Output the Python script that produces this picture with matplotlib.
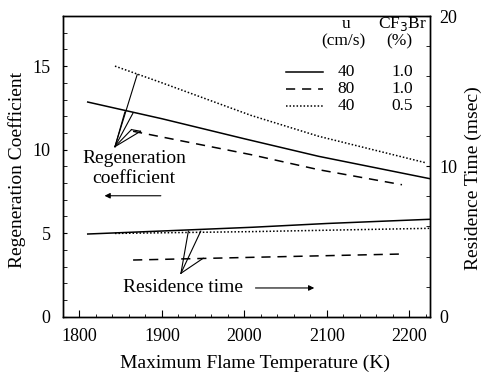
import matplotlib
matplotlib.use("Agg")
import matplotlib.pyplot as plt
from matplotlib.ticker import MultipleLocator

plt.rcParams['font.family'] = ['Liberation Serif', 'DejaVu Serif']

# Regeneration coefficient (left axis)
t_reg_solid = [1810, 1900, 2000, 2090, 2225]
reg_solid = [12.85, 11.85, 10.65, 9.6, 8.26]
t_reg_dash = [1865, 2008, 2090, 2191]
reg_dash = [11.1, 9.7, 8.8, 7.9]
t_reg_dot = [1843, 1900, 2008, 2090, 2221]
reg_dot = [15.0, 14.0, 12.05, 10.8, 9.2]

# Residence time (right axis, msec)
t_res_solid = [1810, 1900, 2010, 2100, 2225]
res_solid = [5.5, 5.7, 5.95, 6.2, 6.48]
t_res_dash = [1865, 2010, 2191]
res_dash = [3.77, 3.95, 4.17]
t_res_dot = [1843, 2010, 2225]
res_dot = [5.54, 5.66, 5.88]

legend_u = ["40", "80", "40"]
legend_cf3br = ["1.0", "1.0", "0.5"]

fig = plt.figure(figsize=(4.91, 3.74), dpi=100)
ax = fig.add_axes([0.1283, 0.1532, 0.7475, 0.804])
ax2 = ax.twinx()

lw = 1.1
dash = (0, (6, 4.5))
dots = (0, (1, 1.3))
ax.plot(t_reg_solid, reg_solid, color='black', lw=lw)
ax.plot(t_reg_dash, reg_dash, color='black', lw=lw, linestyle=dash)
ax.plot(t_reg_dot, reg_dot, color='black', lw=lw, linestyle=dots)

ax2.plot(t_res_solid, res_solid, color='black', lw=lw)
ax2.plot(t_res_dash, res_dash, color='black', lw=lw, linestyle=dash)
ax2.plot(t_res_dot, res_dot, color='black', lw=lw, linestyle=dots)

ax.set_xlim(1780, 2225)
ax.set_ylim(0, 18)
ax2.set_ylim(0, 20)

ax.xaxis.set_major_locator(MultipleLocator(100))
ax.xaxis.set_minor_locator(MultipleLocator(20))
ax.yaxis.set_major_locator(MultipleLocator(5))
ax.yaxis.set_minor_locator(MultipleLocator(1))
ax2.yaxis.set_major_locator(MultipleLocator(10))
ax2.yaxis.set_minor_locator(MultipleLocator(2))

ax.tick_params(axis='x', which='both', direction='in', top=False, labelsize=13, pad=8)
ax.tick_params(axis='x', which='major', length=5)
ax.tick_params(axis='x', which='minor', length=2.5)
ax.tick_params(axis='y', which='both', direction='in', right=False, labelsize=13, pad=9, length=3)
ax2.tick_params(axis='y', which='both', direction='in', left=False, labelsize=13, pad=7, length=3)

for a in (ax, ax2):
    for s in a.spines.values():
        s.set_linewidth(1.0)

ax.set_xlabel("Maximum Flame Temperature (K)", fontsize=14)
ax.xaxis.set_label_coords(0.523, -0.125)
ax.set_ylabel("Regeneration Coefficient", fontsize=14)
ax.yaxis.set_label_coords(-0.10, 0.488)
ax2.set_ylabel("Residence Time (msec)", fontsize=14)
ax2.yaxis.set_label_coords(1.095, 0.46)

# annotations for regeneration coefficient
ax.text(1866, 9.46, "Regeneration", ha='center', va='center', fontsize=14)
ax.text(1866, 8.26, "coefficient", ha='center', va='center', fontsize=14)
ax.annotate("", xy=(1827, 7.24), xytext=(1902, 7.24),
            arrowprops=dict(arrowstyle='-|>', color='black', lw=0.8, mutation_scale=8))
apex = (1843, 10.18)
for tgt in [(1870, 14.5), (1855, 12.25), (1865, 12.2), (1863, 11.2), (1874, 11.1)]:
    ax.plot([apex[0], tgt[0]], [apex[1], tgt[1]], color='black', lw=0.8)
ax.plot([1863, 1874], [11.2, 11.1], color='black', lw=0.8)

# annotations for residence time
ax.text(1925, 1.72, "Residence time", ha='center', va='center', fontsize=14)
ax.annotate("", xy=(2088, 1.72), xytext=(2010, 1.72),
            arrowprops=dict(arrowstyle='-|>', color='black', lw=0.8, mutation_scale=8))
apex2 = (1923, 2.6)
for tgt in [(1932, 5.12), (1947, 5.12), (1950, 3.5)]:
    ax.plot([apex2[0], tgt[0]], [apex2[1], tgt[1]], color='black', lw=0.8)

# legend drawn as a small table
tr = ax.transAxes
def ax_x(px):
    return (px - 63) / 367.0
def ax_y(py):
    return (316.7 - py) / 300.7

ax.text(ax_x(346), ax_y(24), "u", ha='center', va='center', fontsize=12.5, transform=tr)
ax.text(ax_x(402), ax_y(24), r"CF$_3$Br", ha='center', va='center', fontsize=12.5, transform=tr)
ax.text(ax_x(343), ax_y(41), "(cm/s)", ha='center', va='center', fontsize=12.5, transform=tr)
ax.text(ax_x(399), ax_y(41), "(%)", ha='center', va='center', fontsize=12.5, transform=tr)
styles = ['-', dash, dots]
rows_y = [72, 89, 106]
for u, c, st, yy in zip(legend_u, legend_cf3br, styles, rows_y):
    ax.plot([ax_x(286), ax_x(323)], [ax_y(yy), ax_y(yy)], color='black', lw=lw,
            linestyle=st, transform=tr)
    ax.text(ax_x(346), ax_y(yy), u, ha='center', va='center', fontsize=12.5, transform=tr)
    ax.text(ax_x(402), ax_y(yy), c, ha='center', va='center', fontsize=12.5, transform=tr)

fig.savefig("out.png", dpi=100)
